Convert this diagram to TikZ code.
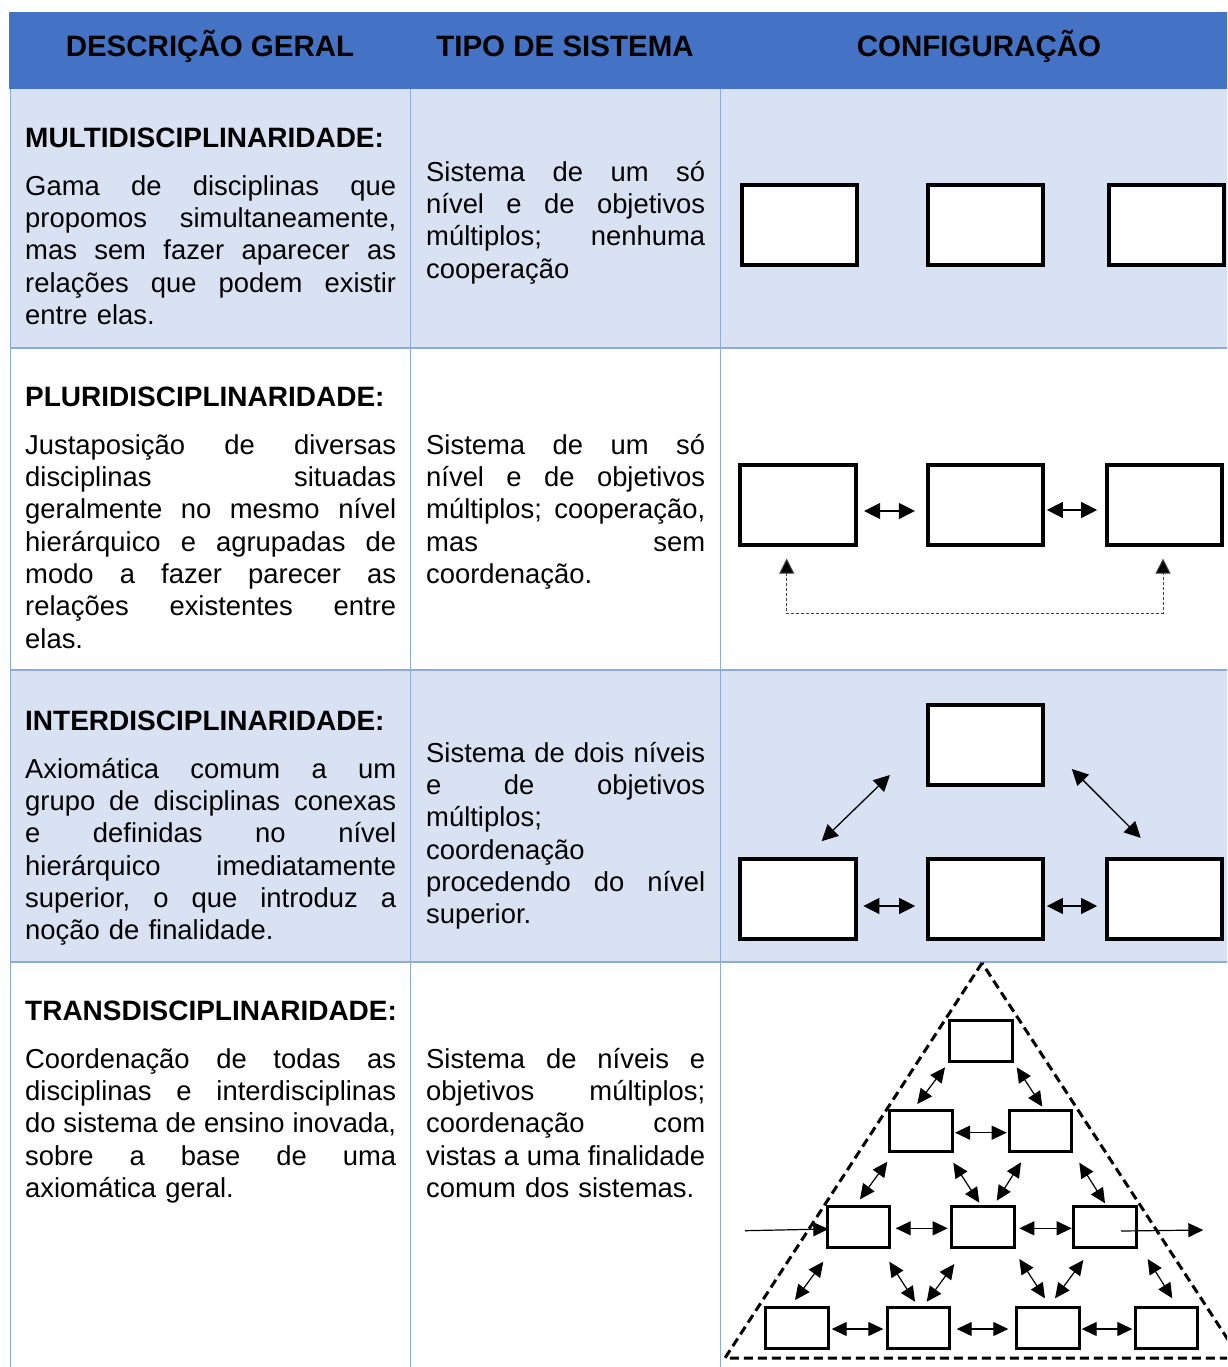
\documentclass[tikz,border=0pt]{standalone}
\usepackage{fontspec}
\setmainfont{Liberation Sans}
\usetikzlibrary{arrows.meta,calc}
\definecolor{hdrblue}{HTML}{4472C4}
\definecolor{rowlight}{HTML}{D9E2F3}
\definecolor{gridblue}{HTML}{8EAADB}
\definecolor{dashgray}{HTML}{404040}
\newcommand\JA[1]{\leavevmode\hbox to 371pt{\frenchspacing\spaceskip=0.278em plus 1fil minus 0.08em\relax #1}}
\newcommand\JB[1]{\leavevmode\hbox to 279pt{\frenchspacing\spaceskip=0.278em plus 1fil minus 0.08em\relax #1}}
\newcommand\FirstStrut{\leavevmode\rule{0pt}{24pt}}
\begin{document}
\begin{tikzpicture}[x=1pt,y=-1pt,
  hdrtext/.style={font=\fontsize{29.5}{34}\selectfont\bfseries, anchor=base, inner sep=0pt},
  headtext/.style={font=\fontsize{28}{32.3}\selectfont\bfseries, anchor=base west, inner sep=0pt},
  bodyA/.style={font=\fontsize{27.4}{32.3}\selectfont, anchor=north west, inner sep=0pt, text width=371pt, align=left},
  bodyB/.style={font=\fontsize{27.4}{32.3}\selectfont, anchor=north west, inner sep=0pt, text width=279pt, align=left},
  bigbox/.style={draw=black, line width=3.7pt, fill=white, minimum width=115.5pt, minimum height=80.5pt, inner sep=0pt},
  smallbox/.style={draw=black, line width=3pt, fill=white, minimum width=62.5pt, minimum height=41pt, inner sep=0pt},
  bigarr/.style={line width=1.3pt, {Triangle[length=16pt,width=16pt]}-{Triangle[length=16pt,width=16pt]}},
  smallarr/.style={line width=1.2pt, {Triangle[length=15pt,width=14pt]}-{Triangle[length=15pt,width=14pt]}},
  onearr/.style={line width=1.2pt, -{Triangle[length=15pt,width=14pt]}},
  dasharr/.style={line width=1pt, draw=dashgray, dash pattern=on 3pt off 2pt, {Triangle[length=15pt,width=15pt,fill=black]}-{Triangle[length=15pt,width=15pt,fill=black]}},
  gridline/.style={draw=gridblue, line width=1.5pt}
]
\clip (0,0) rectangle (1227,1367);
\fill[white] (0,0) rectangle (1227,1367);
% backgrounds
\fill[hdrblue] (9,12) rectangle (1240,89);
\fill[rowlight] (10,89) rectangle (1240,348);
\fill[rowlight] (10,670) rectangle (1240,962);
% grid
\draw[gridline] (10.5,89) -- (10.5,1367);
\draw[gridline] (410.5,89) -- (410.5,1367);
\draw[gridline] (720.5,89) -- (720.5,1367);
\draw[gridline] (10,348) -- (1240,348);
\draw[gridline] (10,670) -- (1240,670);
\draw[gridline] (10,962) -- (1240,962);
% header
\node[hdrtext] (h1) at (210,57) {DESCRIÇÃO GERAL};
\node[hdrtext] (h2) at (565,57) {TIPO DE SISTEMA};
\node[hdrtext] (h3) at (979,57) {CONFIGURAÇÃO};
% row 1
\node[headtext] (t1) at (25,148) {MULTIDISCIPLINARIDADE:};
\node[bodyA] (d1) at (25,171) {\FirstStrut\JA{Gama de disciplinas que}\\
\JA{propomos simultaneamente,}\\
\JA{mas sem fazer aparecer as}\\
\JA{relações que podem existir}\\
entre elas.};
\node[bodyB] (s1) at (426,157) {\FirstStrut\JB{Sistema de um só}\\
\JB{nível e de objetivos}\\
\JB{múltiplos; nenhuma}\\
cooperação};
% row 2
\node[headtext] (t2) at (25,406) {PLURIDISCIPLINARIDADE:};
\node[bodyA] (d2) at (25,430) {\FirstStrut\JA{Justaposição de diversas}\\
\JA{disciplinas situadas}\\
\JA{geralmente no mesmo nível}\\
\JA{hierárquico e agrupadas de}\\
\JA{modo a fazer parecer as}\\
\JA{relações existentes entre}\\
elas.};
\node[bodyB] (s2) at (426,430) {\FirstStrut\JB{Sistema de um só}\\
\JB{nível e de objetivos}\\
\JB{múltiplos; cooperação,}\\
\JB{mas sem}\\
coordenação.};
% row 3
\node[headtext] (t3) at (25,730) {INTERDISCIPLINARIDADE:};
\node[bodyA] (d3) at (25,754) {\FirstStrut\JA{Axiomática comum a um}\\
\JA{grupo de disciplinas conexas}\\
\JA{e definidas no nível}\\
\JA{hierárquico imediatamente}\\
\JA{superior, o que introduz a}\\
noção de finalidade.};
\node[bodyB] (s3) at (426,738) {\FirstStrut\JB{Sistema de dois níveis}\\
\JB{e de objetivos}\\
múltiplos;\\
coordenação\\
\JB{procedendo do nível}\\
superior.};
% row 4
\node[headtext] (t4) at (25,1020) {TRANSDISCIPLINARIDADE:};
\node[bodyA] (d4) at (25,1044) {\FirstStrut\JA{Coordenação de todas as}\\
\JA{disciplinas e interdisciplinas}\\
\JA{do sistema de ensino inovada,}\\
\JA{sobre a base de uma}\\
axiomática geral.};
\node[bodyB] (s4) at (426,1044) {\FirstStrut\JB{Sistema de níveis e}\\
\JB{objetivos múltiplos;}\\
\JB{coordenação com}\\
\JB{vistas a uma finalidade}\\
comum dos sistemas.};
% configuration row 1
\node[bigbox] (r1a) at (799.5,225) {};
\node[bigbox] (r1b) at (985.5,225) {};
\node[bigbox] (r1c) at (1166.5,225) {};
% configuration row 2
\node[bigbox] (r2a) at (798,505) {};
\node[bigbox] (r2b) at (985.5,505) {};
\node[bigbox] (r2c) at (1164.5,505) {};
\draw[bigarr] ([shift={(6.5,6)}]r2a.east) -- ([shift={(-11,6)}]r2b.west);
\draw[bigarr] ([shift={(1.75,5)}]r2b.east) -- ([shift={(-7.75,5)}]r2c.west);
\draw[dasharr] ([shift={(-11.3,11.5)}]r2a.south) -- ++(0,55) -| ([shift={(-1.5,11.5)}]r2c.south);
% configuration row 3
\node[bigbox] (r3t) at (985.5,745) {};
\node[bigbox] (r3a) at (798,899) {};
\node[bigbox] (r3b) at (985.5,899) {};
\node[bigbox] (r3c) at (1164.5,899) {};
\draw[bigarr] ([shift={(23.7,-15.75)}]r3a.north) -- ([shift={(-36,30)}]r3t.west);
\draw[bigarr] ([shift={(26.75,24)}]r3t.east) -- ([shift={(-23.8,-19)}]r3c.north);
\draw[bigarr] ([shift={(5.75,7)}]r3a.east) -- ([shift={(-10.75,7)}]r3b.west);
\draw[bigarr] ([shift={(1.75,7)}]r3b.east) -- ([shift={(-7.75,7)}]r3c.west);
% configuration row 4: pyramid
\coordinate (apex) at (982,963);
\coordinate (bl) at (725,1358);
\coordinate (br) at (1240,1358);
\draw[line width=3pt, dash pattern=on 9pt off 5pt] (apex) -- (bl) -- (br) -- cycle;
\node[smallbox] (p1) at (981,1040.5) {};
\node[smallbox] (p2a) at (921,1131) {};
\node[smallbox] (p2b) at (1040.5,1131) {};
\node[smallbox] (p3a) at (858.5,1227) {};
\node[smallbox] (p3b) at (983,1227) {};
\node[smallbox] (p3c) at (1105,1227) {};
\node[smallbox] (p4a) at (797,1327.5) {};
\node[smallbox] (p4b) at (918.5,1327.5) {};
\node[smallbox] (p4c) at (1048,1327.5) {};
\node[smallbox] (p4d) at (1166.5,1327.5) {};
\draw[smallarr] ([shift={(-3.7,-27)}]p2a.center) -- ([shift={(-36,26.8)}]p1.center);
\draw[smallarr] ([shift={(35.7,26.8)}]p1.center) -- ([shift={(1.8,-24.3)}]p2b.center);
\draw[smallarr] ([shift={(34,1.7)}]p2a.center) -- ([shift={(-33.8,1.7)}]p2b.center);
\draw[smallarr] ([shift={(1.5,-27.7)}]p3a.center) -- ([shift={(-33.7,30.7)}]p2a.center);
\draw[smallarr] ([shift={(32.3,31.7)}]p2a.center) -- ([shift={(-3.7,-24.3)}]p3b.center);
\draw[smallarr] ([shift={(13.7,-26.3)}]p3b.center) -- ([shift={(-19.5,31.3)}]p2b.center);
\draw[smallarr] ([shift={(38.8,31.7)}]p2b.center) -- ([shift={(0,-23.7)}]p3c.center);
\draw[smallarr] ([shift={(37.2,1.3)}]p3a.center) -- ([shift={(-35.3,1.3)}]p3b.center);
\draw[smallarr] ([shift={(36.3,1.3)}]p3b.center) -- ([shift={(-33.3,1.3)}]p3c.center);
\coordinate (inflow) at (745,1230.7);
\coordinate (outflow) at (1203.3,1230);
\draw[onearr] (inflow) -- ([shift={(-30.2,2)}]p3a.center);
\draw[onearr] ([shift={(16,4)}]p3c.center) -- (outflow);
\draw[smallarr] ([shift={(-2,-27.5)}]p4a.center) -- ([shift={(-35.2,34.7)}]p3a.center);
\draw[smallarr] ([shift={(30.8,34.7)}]p3a.center) -- ([shift={(-3.5,-25.8)}]p4b.center);
\draw[smallarr] ([shift={(8.2,-25.8)}]p4b.center) -- ([shift={(-28.7,37)}]p3b.center);
\draw[smallarr] ([shift={(36.3,32)}]p3b.center) -- ([shift={(-3,-29.2)}]p4c.center);
\draw[smallarr] ([shift={(7,-29.2)}]p4c.center) -- ([shift={(-21.7,33)}]p3c.center);
\draw[smallarr] ([shift={(42.7,32)}]p3c.center) -- ([shift={(5.8,-29.2)}]p4d.center);
\draw[smallarr] ([shift={(34.7,1.5)}]p4a.center) -- ([shift={(-35.2,1.5)}]p4b.center);
\draw[smallarr] ([shift={(38.2,1.5)}]p4b.center) -- ([shift={(-39.7,1.5)}]p4c.center);
\draw[smallarr] ([shift={(33.7,1.5)}]p4c.center) -- ([shift={(-34.2,1.5)}]p4d.center);
\end{tikzpicture}
\end{document}
